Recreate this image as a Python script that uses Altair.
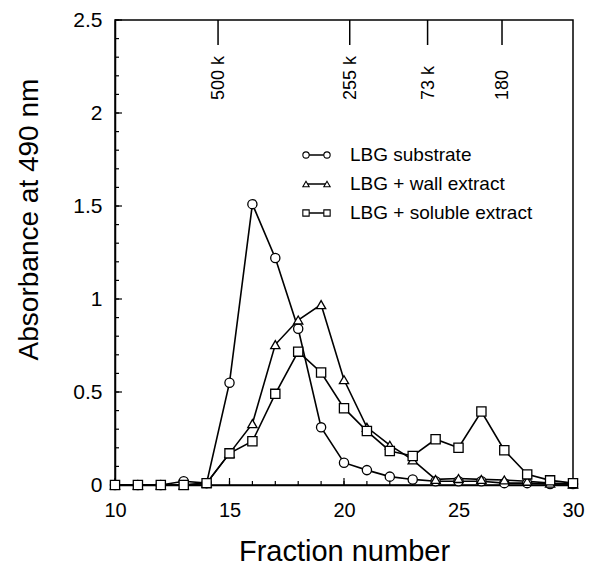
import altair as alt
import pandas as pd

# ---- data ----
fractions = list(range(10, 31))
substrate = [0.0, 0.0, 0.0, 0.02, 0.01, 0.55, 1.51, 1.22, 0.84, 0.31, 0.12,
             0.08, 0.045, 0.03, 0.02, 0.02, 0.02, 0.01, 0.01, 0.005, 0.005]
wall = [0.0, 0.0, 0.0, 0.0, 0.01, 0.17, 0.33, 0.755, 0.887, 0.97, 0.566,
        0.31, 0.214, 0.135, 0.03, 0.035, 0.03, 0.027, 0.02, 0.01, 0.005]
soluble = [0.0, 0.0, 0.0, 0.0, 0.01, 0.17, 0.235, 0.49, 0.717, 0.605, 0.413,
           0.29, 0.183, 0.156, 0.246, 0.2, 0.395, 0.187, 0.057, 0.025, 0.01]
series_names = ["LBG substrate", "LBG + wall extract", "LBG + soluble extract"]
series_shapes = ["circle", "triangle-up", "square"]

mw_labels = ["500 k", "255 k", "73 k", "180"]
mw_positions = [14.5, 20.25, 23.65, 26.9]

x_tick_labels = [10, 15, 20, 25, 30]
y_tick_labels = [0, 0.5, 1, 1.5, 2, 2.5]
x_minor = list(range(10, 31))
y_minor = [round(i * 0.1, 1) for i in range(0, 26)]

FONT = "Liberation Sans"

rows = []
for name, vals in zip(series_names, [substrate, wall, soluble]):
    for f, v in zip(fractions, vals):
        rows.append({"series": name, "x": f, "y": v})
df = pd.DataFrame(rows)

xscale = alt.Scale(domain=[10, 30], nice=False, zero=False)
yscale = alt.Scale(domain=[0, 2.5], nice=False)

xaxis = alt.Axis(values=x_tick_labels, tickSize=0, labelFontSize=20, labelFont=FONT,
                 labelColor="black", labelPadding=15, labelFlush=False,
                 domainColor="black", domainWidth=1.5,
                 grid=False, title="Fraction number", titleFont=FONT, titleFontSize=29,
                 titleFontWeight="normal", titleColor="black", titleBaseline="alphabetic",
                 titleY=75)
yaxis = alt.Axis(values=y_tick_labels, format="~g", tickSize=0, labelFontSize=21, labelFont=FONT,
                 labelColor="black", labelPadding=13, labelFlush=False,
                 domainColor="black", domainWidth=1.5,
                 grid=False, title="Absorbance at 490 nm", titleFont=FONT, titleFontSize=28,
                 titleFontWeight="normal", titleColor="black", titleBaseline="middle",
                 titleX=-86, titleY=199, titleAngle=270)

shape_scale = alt.Scale(domain=series_names, range=series_shapes)

lines = alt.Chart(df).mark_line(color="black", strokeWidth=1.6).encode(
    x=alt.X("x:Q", scale=xscale, axis=xaxis),
    y=alt.Y("y:Q", scale=yscale, axis=yaxis),
    detail="series:N",
)
points = alt.Chart(df).mark_point(filled=True, fill="white", stroke="black",
                                  strokeWidth=1.3, size=85, opacity=1).encode(
    x=alt.X("x:Q", scale=xscale),
    y=alt.Y("y:Q", scale=yscale),
    shape=alt.Shape("series:N", scale=shape_scale, legend=None),
)

# inward ticks
ydf_major = pd.DataFrame({"y": y_tick_labels})
ydf_minor = pd.DataFrame({"y": y_minor})
xdf_major = pd.DataFrame({"x": x_tick_labels})
xdf_minor = pd.DataFrame({"x": x_minor})
H = 465
yt_minor = alt.Chart(ydf_minor).mark_rule(color="black", strokeWidth=1.2).encode(
    y=alt.Y("y:Q", scale=yscale), x=alt.value(0), x2=alt.value(4))
yt_major = alt.Chart(ydf_major).mark_rule(color="black", strokeWidth=1.2).encode(
    y=alt.Y("y:Q", scale=yscale), x=alt.value(0), x2=alt.value(7))
xt_minor = alt.Chart(xdf_minor).mark_rule(color="black", strokeWidth=1.2).encode(
    x=alt.X("x:Q", scale=xscale), y=alt.value(H), y2=alt.value(H - 4))
xt_major = alt.Chart(xdf_major).mark_rule(color="black", strokeWidth=1.2).encode(
    x=alt.X("x:Q", scale=xscale), y=alt.value(H), y2=alt.value(H - 7))

# molecular weight markers at top
mwdf = pd.DataFrame({"x": mw_positions, "label": mw_labels})
mw_rules = alt.Chart(mwdf).mark_rule(color="black", strokeWidth=1.5).encode(
    x=alt.X("x:Q", scale=xscale), y=alt.value(0), y2=alt.value(25))
mw_text = alt.Chart(mwdf).mark_text(angle=270, align="left", baseline="middle",
                                    fontSize=18, font=FONT, color="black", dy=1).encode(
    x=alt.X("x:Q", scale=xscale), y=alt.value(80), text="label:N")

# hand-drawn legend
legend_layers = []
row_y = [135, 164, 193]
for name, shp, ry in zip(series_names, series_shapes, row_y):
    ldf = pd.DataFrame({"label": [name]})
    legend_layers.append(alt.Chart(ldf).mark_rule(color="black", strokeWidth=1.5).encode(
        x=alt.value(191), x2=alt.value(212), y=alt.value(ry)))
    for sx in (191, 212):
        legend_layers.append(alt.Chart(ldf).mark_point(
            shape=shp, filled=True, fill="white", stroke="black", strokeWidth=1.1,
            size=40, opacity=1).encode(x=alt.value(sx), y=alt.value(ry)))
    legend_layers.append(alt.Chart(ldf).mark_text(
        align="left", baseline="middle", fontSize=19, font=FONT, color="black").encode(
        x=alt.value(235), y=alt.value(ry), text="label:N"))

chart = alt.layer(lines, yt_minor, yt_major, xt_minor, xt_major, mw_rules, mw_text,
                  points, *legend_layers).properties(
    width=458, height=H,
    autosize=alt.AutoSizeParams(type="none"),
    padding={"left": 107, "top": 12, "right": 12, "bottom": 80},
    background="white",
).configure_view(stroke="black", strokeWidth=1.5)

chart.save("out.html", embed_options={"renderer": "svg", "actions": False})
